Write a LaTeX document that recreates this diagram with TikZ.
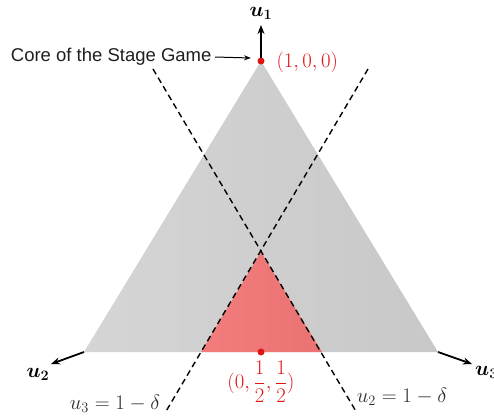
\documentclass[tikz,border=0pt]{standalone}
\usepackage{amsmath}
\usepackage{graphicx}
\usepackage{fontspec}
\setmainfont{Liberation Sans}
\usepackage{bm}
\usetikzlibrary{arrows.meta}
\newcommand{\mscaled}[1]{\scalebox{1.2}{$#1$}}
\definecolor{grayL}{RGB}{213,213,213}
\definecolor{grayR}{RGB}{200,200,200}
\definecolor{redL}{RGB}{243,124,124}
\definecolor{redR}{RGB}{234,114,114}
\definecolor{ptred}{RGB}{225,20,20}
\definecolor{lbl}{RGB}{45,45,45}
\tikzset{
  axisarrow/.style={line width=1.8pt,-{Stealth[length=9pt,width=7pt]}},
  cutline/.style={dashed,line width=1.4pt,dash pattern=on 6pt off 4pt},
  dotpt/.style={circle,fill=ptred,inner sep=0pt,minimum size=7pt},
  redlabel/.style={text=ptred},
  graylabel/.style={text=lbl},
}
\begin{document}
\begin{tikzpicture}[x=1pt,y=-1pt,font=\fontsize{18.5}{22}\selectfont]
\useasboundingbox (0,0) rectangle (494,416);
% main triangle
\coordinate (A) at (261,61);
\coordinate (B) at (84,352);
\coordinate (C) at (438,352);
\shade[left color=grayL,right color=grayR] (A) -- (B) -- (C) -- cycle;
% red region
\coordinate (P) at (261,252);
\coordinate (Q) at (201,352);
\coordinate (R) at (322,352);
\shade[left color=redL,right color=redR] (P) -- (Q) -- (R) -- cycle;
% dashed lines
\coordinate (L1s) at (153,69);
\coordinate (L1e) at (357,413);
\coordinate (L2s) at (368,69);
\coordinate (L2e) at (165,413);
\draw[cutline] (L1s) -- (L1e);
\draw[cutline] (L2s) -- (L2e);
% axes
\coordinate (U1) at (261,25);
\coordinate (U2) at (51,364);
\coordinate (U3) at (472,364);
\draw[axisarrow] (A) -- (U1);
\draw[axisarrow] (B) -- (U2);
\draw[axisarrow] (C) -- (U3);
\node (u1) at (261,13) {\mscaled{\bm{u_1}}};
\node (u2) at (38,374) {\mscaled{\bm{u_2}}};
\node[anchor=west,inner sep=1pt] (u3) at (474,372) {\mscaled{\bm{u_3}}};
% points
\node[dotpt] (pA) at (A) {};
\node[dotpt] (pM) at (261,352) {};
\node[redlabel,anchor=west] (lA) at (273,62) {\mscaled{(1,0,0)}};
\node[redlabel] (lM) at (261,382) {\mscaled{(0,\dfrac{1}{2},\dfrac{1}{2})}};
% core label
\node[text=black!88,anchor=east] (core) at (215,57) {Core of the Stage Game};
\coordinate (coreTip) at (251,58);
\draw[line width=1pt,-{Stealth[length=7pt,width=5pt]}] (core.east) -- (coreTip);
% constraint labels
\node[graylabel] (c3) at (115,404) {\mscaled{u_3=1-\delta}};
\node[graylabel] (c2) at (402,397) {\mscaled{u_2=1-\delta}};
\end{tikzpicture}
\end{document}
